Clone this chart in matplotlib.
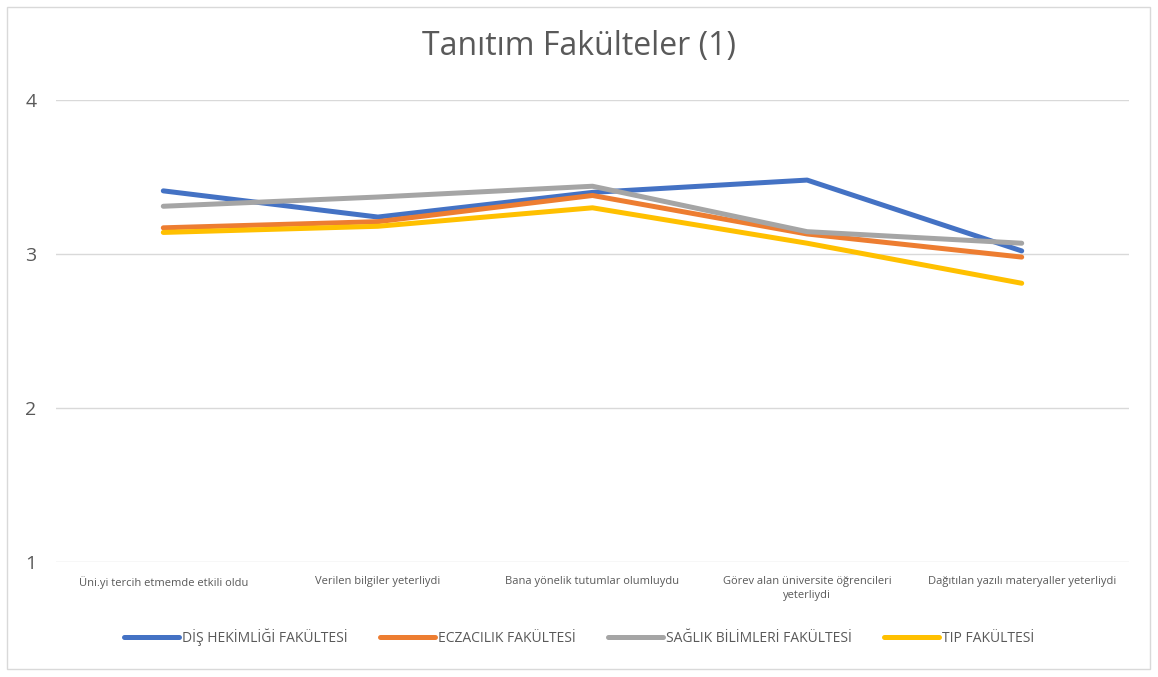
import matplotlib
matplotlib.use("Agg")
import matplotlib.pyplot as plt
from matplotlib.patches import Rectangle

categories = ["Üni.yi tercih etmemde etkili oldu",
              "Verilen bilgiler yeterliydi",
              "Bana yönelik tutumlar olumluydu",
              "Görev alan üniversite öğrencileri\nyeterliydi",
              "Dağıtılan yazılı materyaller yeterliydi"]
series_names = ["DİŞ HEKİMLİĞİ FAKÜLTESİ", "ECZACILIK FAKÜLTESİ",
                "SAĞLIK BİLİMLERİ FAKÜLTESİ", "TIP FAKÜLTESİ"]
dis = [3.41, 3.24, 3.40, 3.48, 3.02]
ecz = [3.17, 3.21, 3.38, 3.13, 2.98]
sag = [3.31, 3.37, 3.44, 3.145, 3.07]
tip = [3.14, 3.18, 3.30, 3.07, 2.81]
yticks = [1, 2, 3, 4]
colors = ["#4472C4", "#ED7D31", "#A5A5A5", "#FFC000"]

plt.rcParams['font.family'] = ['Open Sans', 'DejaVu Sans']

fig = plt.figure(figsize=(11.58, 6.77), dpi=100)
fig.patches.append(Rectangle((7/1158, 8/677), 1143/1158, 662/677,
                             transform=fig.transFigure, fill=False,
                             edgecolor="#D9D9D9", linewidth=1))
ax = fig.add_axes([56/1158, 1-562/677, (1129-56)/1158, (562-100)/677])

x = list(range(len(categories)))
for vals, name, c in zip([dis, ecz, sag, tip], series_names, colors):
    ax.plot(x, vals, color=c, linewidth=3.6, label=name,
            solid_capstyle="round", solid_joinstyle="round")

ax.set_xlim(-0.5, len(categories) - 0.5)
ax.set_ylim(1, 4)
ax.set_yticks(yticks)
ax.set_yticklabels([str(t) for t in yticks])
ax.set_xticks(x)
ax.set_xticklabels(categories, fontsize=8, color="#595959", linespacing=1.45)
ax.tick_params(axis="y", length=0, pad=14, labelsize=14, labelcolor="#595959")
ax.tick_params(axis="x", length=0, pad=10)
for s in ax.spines.values():
    s.set_visible(False)
ax.grid(axis="y", color="#D9D9D9", linewidth=1)
ax.set_axisbelow(True)

fig.text(0.5, 1-47/677, "Tanıtım Fakülteler (1)", ha="center", va="center",
         fontsize=23, color="#595959")

leg = fig.legend(loc="center", bbox_to_anchor=(0.5, 1-637/677), ncol=4,
                 frameon=False, fontsize=10, handlelength=4.0,
                 columnspacing=2.3, handletextpad=0.2)
for t in leg.get_texts():
    t.set_color("#595959")

fig.savefig("out.png", dpi=100)
